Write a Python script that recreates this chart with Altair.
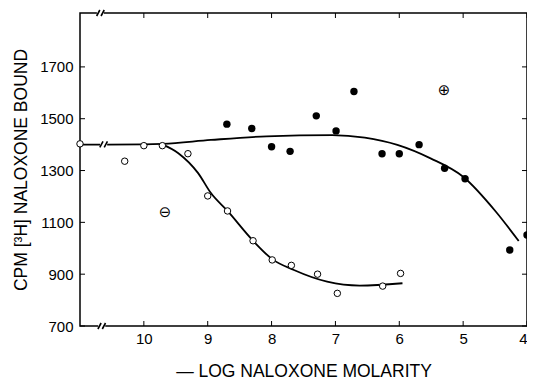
import altair as alt
import pandas as pd

# ---- data ----
open_x = [11.0, 10.30, 10.0, 9.71, 9.31, 9.0, 8.69, 8.29, 7.99, 7.69, 7.28, 6.97, 6.26, 5.98]
open_y = [1403, 1336, 1396, 1396, 1365, 1202, 1144, 1029, 955, 934, 900, 826, 854, 903]

filled_x = [8.70, 8.31, 8.0, 7.71, 7.30, 6.99, 6.71, 6.27, 6.0, 5.69, 5.29, 4.97, 4.27, 4.0]
filled_y = [1479, 1462, 1392, 1374, 1511, 1453, 1605, 1365, 1365, 1400, 1309, 1268, 993, 1051]

fit_plus_x = [11.0, 10.0, 9.7, 8.95, 8.08, 7.05, 6.54, 6.03, 5.51, 5.0, 4.49, 4.13]
fit_plus_y = [1400, 1401, 1403, 1418, 1432, 1437, 1427, 1399, 1347, 1276, 1142, 1028]

fit_minus_x = [9.72, 9.46, 9.15, 8.95, 8.69, 8.29, 7.99, 7.65, 7.13, 6.62, 5.95]
fit_minus_y = [1402, 1367, 1290, 1213, 1144, 1029, 958, 916, 871, 856, 865]

sym_x = [5.30, 9.67]
sym_y = [1610, 1140]
sym_text = ["⊕", "⊖"]

break_x = [10.68, 10.66, 10.63]
break_y = [1908, 700, 1401]

x_ticks = [10, 9, 8, 7, 6, 5, 4]
y_ticks = [700, 900, 1100, 1300, 1500, 1700]

X_DOMAIN = [11, 4]
Y_DOMAIN = [700, 1908]
W, H = 447, 313
FONT = "Liberation Sans"

xs = alt.Scale(domain=X_DOMAIN, nice=False, zero=False)
ys = alt.Scale(domain=Y_DOMAIN, nice=False, zero=False)

df_open = pd.DataFrame({"x": open_x, "y": open_y})
df_filled = pd.DataFrame({"x": filled_x, "y": filled_y})
df_fp = pd.DataFrame({"x": fit_plus_x, "y": fit_plus_y, "i": range(len(fit_plus_x))})
df_fm = pd.DataFrame({"x": fit_minus_x, "y": fit_minus_y, "i": range(len(fit_minus_x))})
df_sym = pd.DataFrame({"x": sym_x, "y": sym_y, "t": sym_text})
df_brk = pd.DataFrame({"x": break_x, "y": break_y})
df_xt = pd.DataFrame({"x": x_ticks})
df_yt = pd.DataFrame({"y": y_ticks})

base_x = alt.X("x:Q", scale=xs,
               axis=alt.Axis(values=x_ticks, format="d", ticks=False, domain=False, grid=False,
                             labelFont=FONT, labelFontSize=15, labelColor="black", labelPadding=5,
                             title="— LOG NALOXONE MOLARITY", titleFont=FONT, titleFontSize=17.5,
                             titleFontWeight="normal", titleColor="black", titlePadding=16))
base_y = alt.Y("y:Q", scale=ys,
               axis=alt.Axis(values=y_ticks, format="d", ticks=False, domain=False, grid=False,
                             labelFont=FONT, labelFontSize=15, labelColor="black", labelPadding=7,
                             title="CPM [³H] NALOXONE BOUND", titleFont=FONT, titleFontSize=17.5,
                             titleFontWeight="normal", titleColor="black", titlePadding=9))

line_plus = alt.Chart(df_fp).mark_line(color="black", strokeWidth=1.8, interpolate="monotone").encode(
    x=base_x, y=base_y, order=alt.Order("i:Q"))
line_minus = alt.Chart(df_fm).mark_line(color="black", strokeWidth=1.8, interpolate="monotone").encode(
    x=alt.X("x:Q", scale=xs), y=alt.Y("y:Q", scale=ys), order=alt.Order("i:Q"))

pts_open = alt.Chart(df_open).mark_point(shape="circle", filled=True, fill="white", stroke="black",
                                         strokeWidth=1, size=42, opacity=1).encode(
    x=alt.X("x:Q", scale=xs), y=alt.Y("y:Q", scale=ys))
pts_filled = alt.Chart(df_filled).mark_point(shape="circle", filled=True, color="black", size=55,
                                             opacity=1).encode(
    x=alt.X("x:Q", scale=xs), y=alt.Y("y:Q", scale=ys))

syms = alt.Chart(df_sym).mark_text(font="DejaVu Sans", fontSize=15, color="black",
                                   baseline="middle", align="center").encode(
    x=alt.X("x:Q", scale=xs), y=alt.Y("y:Q", scale=ys), text="t:N")

brk_gap = alt.Chart(df_brk).mark_point(shape="square", filled=True, color="white", size=50,
                                       opacity=1).encode(
    x=alt.X("x:Q", scale=xs), y=alt.Y("y:Q", scale=ys))
brk_mark = alt.Chart(df_brk).mark_point(
    shape="M-0.95,0.75L-0.15,-0.75M0.15,0.75L0.95,-0.75",
    filled=False, color="black", strokeWidth=1.6, size=64, opacity=1).encode(
    x=alt.X("x:Q", scale=xs), y=alt.Y("y:Q", scale=ys))

tick_b = alt.Chart(df_xt).mark_rule(color="black", strokeWidth=1).encode(
    x=alt.X("x:Q", scale=xs), y=alt.value(H), y2=alt.value(H - 5))
tick_t = alt.Chart(df_xt).mark_rule(color="black", strokeWidth=1).encode(
    x=alt.X("x:Q", scale=xs), y=alt.value(0), y2=alt.value(5))
tick_l = alt.Chart(df_yt).mark_rule(color="black", strokeWidth=1).encode(
    y=alt.Y("y:Q", scale=ys), x=alt.value(0), x2=alt.value(5))
tick_r = alt.Chart(df_yt).mark_rule(color="black", strokeWidth=1).encode(
    y=alt.Y("y:Q", scale=ys), x=alt.value(W), x2=alt.value(W - 5))

chart = alt.layer(
    line_plus, line_minus, tick_b, tick_t, tick_l, tick_r,
    pts_open, pts_filled, syms, brk_gap, brk_mark
).properties(
    width=W, height=H,
    autosize=alt.AutoSizeParams(type="none"),
    padding={"left": 72, "top": 5, "right": 0, "bottom": 53},
    background="white",
).configure_view(stroke="black", strokeWidth=1.5, clip=False)

chart.save("out.html", embed_options={"renderer": "svg", "actions": False})
